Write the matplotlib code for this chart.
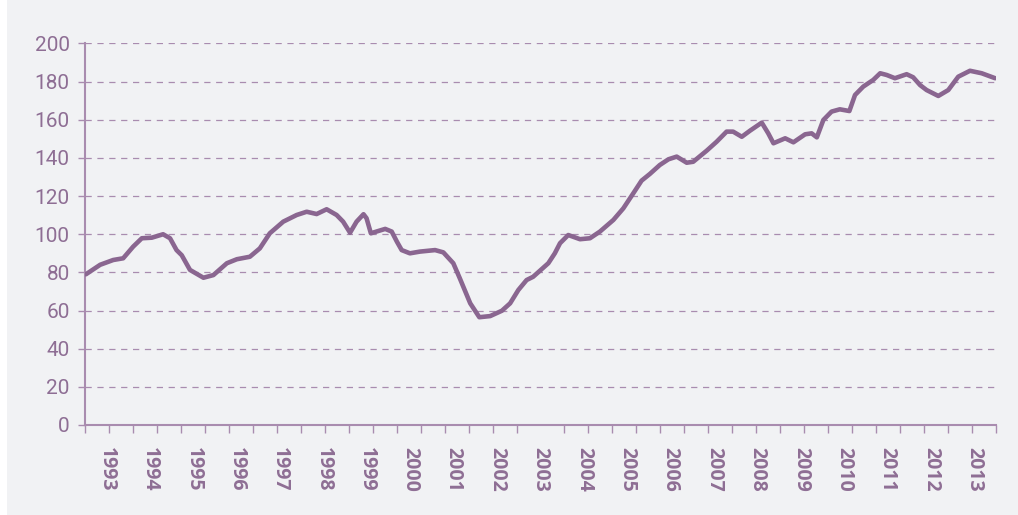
import matplotlib
matplotlib.use("Agg")
import matplotlib.pyplot as plt
from matplotlib.patches import Rectangle
import numpy as np

plt.rcParams['font.family'] = ['Roboto', 'DejaVu Sans']

# Decimal-year positions and index values
years_x = [1993.02, 1993.35, 1993.65, 1993.88, 1994.11, 1994.31, 1994.54, 1994.80, 1994.96,
           1995.11, 1995.23, 1995.42, 1995.73, 1995.96, 1996.27, 1996.50, 1996.80, 1997.03,
           1997.26, 1997.57, 1997.88, 1998.11, 1998.34, 1998.57, 1998.80, 1998.95, 1999.11,
           1999.26, 1999.42, 1999.49, 1999.59, 1999.76, 1999.92, 2000.07, 2000.19, 2000.30,
           2000.49, 2000.72, 2001.07, 2001.26, 2001.49, 2001.64, 2001.88, 2002.09, 2002.34,
           2002.61, 2002.80, 2002.99, 2003.18, 2003.33, 2003.68, 2003.83, 2003.95, 2004.14,
           2004.41, 2004.64, 2004.87, 2005.18, 2005.41, 2005.64, 2005.83, 2006.02, 2006.25,
           2006.45, 2006.64, 2006.87, 2007.02, 2007.33, 2007.56, 2007.79, 2007.94, 2008.14,
           2008.33, 2008.60, 2008.75, 2008.87, 2009.14, 2009.33, 2009.60, 2009.75, 2009.87,
           2010.02, 2010.21, 2010.40, 2010.62, 2010.75, 2010.94, 2011.17, 2011.33, 2011.48,
           2011.67, 2011.94, 2012.09, 2012.25, 2012.40, 2012.67, 2012.90, 2013.13, 2013.40,
           2013.67, 2013.98]
values = [79.0, 84.0, 86.5, 87.4, 93.5, 97.9, 98.2, 100.0, 97.9,
          91.7, 89.0, 81.3, 77.2, 78.6, 84.8, 86.9, 88.2, 92.6,
          100.5, 106.6, 110.1, 111.8, 110.6, 113.1, 110.1, 106.6, 100.8,
          106.6, 110.5, 108.4, 100.5, 101.7, 102.8, 101.4, 96.1, 91.7,
          90.0, 90.9, 91.7, 90.5, 84.8, 76.9, 63.8, 56.5, 57.1,
          59.9, 63.8, 70.8, 76.0, 77.7, 84.8, 90.0, 95.3, 99.6,
          97.4, 97.9, 101.4, 107.5, 113.6, 121.5, 128.1, 131.6, 136.3,
          139.3, 140.7, 137.5, 138.0, 143.8, 148.5, 153.8, 153.8, 151.1,
          154.3, 158.5, 152.9, 147.7, 150.3, 148.2, 152.4, 152.9, 150.8,
          159.9, 164.3, 165.5, 164.6, 173.0, 177.4, 180.9, 184.4, 183.5,
          181.8, 183.9, 182.3, 178.2, 175.6, 172.5, 175.6, 182.6, 185.7,
          184.4, 181.8]
year_labels = [str(y) for y in range(1993, 2014)]
y_ticks = [0, 20, 40, 60, 80, 100, 120, 140, 160, 180, 200]

BG = '#f1f2f4'
LINE = '#8a6690'
TXT = '#8e6e94'
GRID = '#a98caf'

fig = plt.figure(figsize=(10.18, 5.15), dpi=100, facecolor=BG)
fig.add_artist(Rectangle((0, 0), 7 / 1018, 1, transform=fig.transFigure,
                         facecolor='white', edgecolor='none', zorder=-10))
ax = fig.add_axes([85 / 1018, 1 - 425 / 515, (996 - 85) / 1018, (425 - 43.5) / 515])
ax.set_facecolor(BG)

ax.plot(years_x, values, color=LINE, lw=3.3, solid_joinstyle='round',
        solid_capstyle='round', zorder=3)

ax.set_xlim(1993, 2014)
ax.set_ylim(0, 200)

ax.set_yticks(y_ticks)
ax.set_yticklabels([str(v) for v in y_ticks])
ax.yaxis.grid(True, color=GRID, lw=0.9, linestyle=(0, (5, 4.5)))
ax.set_axisbelow(True)

ax.set_xticks([y + 0.5 for y in range(1993, 2014)])
ax.set_xticklabels(year_labels, rotation=270, fontweight='bold',
                   family=['Open Sans', 'DejaVu Sans'])
ax.set_xticks(np.linspace(1993, 2014, 39), minor=True)

ax.tick_params(axis='y', length=5, width=1, color=GRID, labelsize=15,
               labelcolor=TXT, pad=6)
ax.tick_params(axis='x', which='major', length=0, labelsize=14,
               labelcolor=TXT, pad=16)
ax.tick_params(axis='x', which='minor', length=6, width=1, color=GRID)

for s in ['top', 'right']:
    ax.spines[s].set_visible(False)
for s in ['left', 'bottom']:
    ax.spines[s].set_color(GRID)
    ax.spines[s].set_linewidth(1.5)

fig.savefig('out.png', dpi=100, facecolor=BG)
